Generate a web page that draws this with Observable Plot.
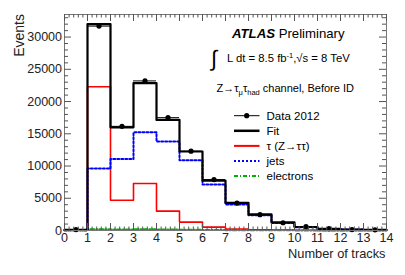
<!DOCTYPE html>
<html><head><meta charset="utf-8">
<script src="https://cdn.jsdelivr.net/npm/d3@7"></script>
<script src="https://cdn.jsdelivr.net/npm/@observablehq/plot@0.6"></script>
<style>body{margin:0;background:#fff}#chart{width:405px;height:275px}</style>
</head><body><div id="chart"></div>
<script>
// ---- data (bins 0-1 ... 13-14) ----
const binEdges = [0,1,2,3,4,5,6,7,8,9,10,11,12,13,14];
const dataVals = [150, 31700, 16150, 23200, 17500, 12300, 7900, 4250, 2450, 1200, 600, 280, 150, 100];
const fitVals  = [100, 32000, 16000, 22850, 17150, 12250, 7750, 4300, 2500, 1250, 540, 260, 150, 100];
const tauVals  = [50, 22300, 4700, 7300, 3000, 1300, 520, 230, 120, 60, 30, 15, 10, 5];
const jetVals  = [50, 9600, 11100, 15250, 13800, 10900, 7150, 4050, 2350, 1180, 500, 240, 140, 90];
const eleVals  = [0, 200, 150, 200, 150, 100, 70, 40, 30, 20, 10, 8, 5, 3];
const xTickLabels = ["0","1","2","3","4","5","6","7","8","9","10","11","12","13","14"];
const yTickValues = [0,5000,10000,15000,20000,25000,30000];

const W=405,H=275,mL=64,mR=19,mT=14,mB=45;
const innerW=W-mL-mR, innerH=H-mT-mB;
const FONT='"Liberation Sans", Arial, Helvetica, sans-serif';

const step = vals => binEdges.map((e,i)=>({x:e, y:vals[Math.min(i, vals.length-1)]}));
const pts = dataVals.map((v,i)=>({x0:binEdges[i], x1:binEdges[i+1], xc:binEdges[i]+0.5, y:v, e:Math.sqrt(v)}));

const xMajor = binEdges;
const xMinor = d3.range(0,71).filter(i=>i%5!==0).map(i=>i/5);
const yMinor = d3.range(0,34).filter(k=>k%5!==0).map(k=>k*1000);

const tickCol="#555";
const svg = Plot.plot({
  width:W, height:H, marginLeft:mL, marginRight:mR, marginTop:mT, marginBottom:mB,
  x:{domain:[0,14], axis:null},
  y:{domain:[0,33500], axis:null},
  style:{fontFamily:FONT, background:"#fff", overflow:"visible"},
  marks:[
    // histograms
    Plot.line(step(eleVals),{x:"x",y:"y",curve:"step-after",stroke:"#00b000",strokeWidth:2,strokeDasharray:"4,2,1,2"}),
    Plot.line(step(tauVals),{x:"x",y:"y",curve:"step-after",stroke:"#ff0000",strokeWidth:1.6}),
    Plot.line(step(jetVals),{x:"x",y:"y",curve:"step-after",stroke:"#0000ff",strokeWidth:2,strokeDasharray:"2,2"}),
    Plot.line(step(fitVals),{x:"x",y:"y",curve:"step-after",stroke:"#000",strokeWidth:2.2}),
    // data points with errors
    Plot.ruleY(pts,{y:"y",x1:"x0",x2:"x1",stroke:"#000",strokeWidth:1}),
    Plot.ruleX(pts,{x:"xc",y1:d=>d.y-d.e,y2:d=>d.y+d.e,stroke:"#000",strokeWidth:1}),
    Plot.dot(pts,{x:"xc",y:"y",r:2.6,fill:"#000"}),
    // frame and inward ticks
    Plot.frame({stroke:"#777",strokeWidth:1}),
    Plot.tickX(xMajor,{x:d=>d,insetTop:innerH-7,stroke:tickCol}),
    Plot.tickX(xMinor,{x:d=>d,insetTop:innerH-3.5,stroke:tickCol}),
    Plot.tickX(xMajor,{x:d=>d,insetBottom:innerH-7,stroke:tickCol}),
    Plot.tickX(xMinor,{x:d=>d,insetBottom:innerH-3.5,stroke:tickCol}),
    Plot.tickY(yTickValues,{y:d=>d,insetRight:innerW-7,stroke:tickCol}),
    Plot.tickY(yMinor,{y:d=>d,insetRight:innerW-4,stroke:tickCol}),
    Plot.tickY(yTickValues,{y:d=>d,insetLeft:innerW-7,stroke:tickCol}),
    Plot.tickY(yMinor,{y:d=>d,insetLeft:innerW-4,stroke:tickCol}),
    // tick labels
    Plot.text(xMajor,{x:d=>d,text:(d,i)=>xTickLabels[i],frameAnchor:"bottom",dy:11,fontSize:12.5,fill:"#222"}),
    Plot.text(yTickValues,{y:d=>d,text:d=>String(d),frameAnchor:"left",dx:-2.5,textAnchor:"end",fontSize:12.5,fill:"#222"})
  ]
});
document.getElementById("chart").appendChild(svg);

const s = d3.select(svg);
const txt = (x,y,size) => s.append("text").attr("x",x).attr("y",y).attr("text-anchor","start")
  .attr("font-family",FONT).attr("font-size",size).attr("fill","#000");

// axis titles
s.append("text").attr("transform","translate(24,14) rotate(-90)").attr("text-anchor","end")
  .attr("font-family",FONT).attr("font-size",14).attr("fill","#222").text("Events");
s.append("text").attr("x",385.5).attr("y",258).attr("text-anchor","end")
  .attr("font-family",FONT).attr("font-size",12.8).attr("fill","#222").text("Number of tracks");

// ATLAS label
const t1 = txt(232,37.5,13.2);
t1.append("tspan").attr("font-weight","bold").attr("font-style","italic").text("ATLAS");
t1.append("tspan").text(" Preliminary");

// luminosity
txt(211,66,22).text("∫");
const t2 = txt(227,62,11.3);
t2.append("tspan").text("L dt = 8.5 fb");
t2.append("tspan").attr("font-size",7.5).attr("dy",-4.5).text("-1");
t2.append("tspan").attr("dy",4.5).text(",√s = 8 TeV");

// channel
const t3 = txt(216.5,92,11);
t3.append("tspan").text("Z→τ");
t3.append("tspan").attr("font-size",7.5).attr("dy",2.5).text("μ");
t3.append("tspan").attr("dy",-2.5).text("τ");
t3.append("tspan").attr("font-size",7.5).attr("dy",2.5).text("had");
t3.append("tspan").attr("dy",-2.5).text(" channel, Before ID");

// legend
const leg = [
  {label:"Data 2012", stroke:"#000", w:1, dash:null, dot:true},
  {label:"Fit", stroke:"#000", w:2.5, dash:null},
  {label:"τ (Z→ττ)", stroke:"#ff0000", w:2, dash:null},
  {label:"jets", stroke:"#0000ff", w:2, dash:"2,2"},
  {label:"electrons", stroke:"#00b000", w:2, dash:"4,2,1,2"}
];
leg.forEach((d,i)=>{
  const y = 115.7 + i*15.1;
  s.append("line").attr("x1",234).attr("x2",259.5).attr("y1",y).attr("y2",y)
    .attr("stroke",d.stroke).attr("stroke-width",d.w).attr("stroke-dasharray",d.dash);
  if (d.dot) s.append("circle").attr("cx",246.7).attr("cy",y).attr("r",2.6).attr("fill","#000");
  txt(266.5,y+4,11.5).text(d.label);
});
</script></body></html>
